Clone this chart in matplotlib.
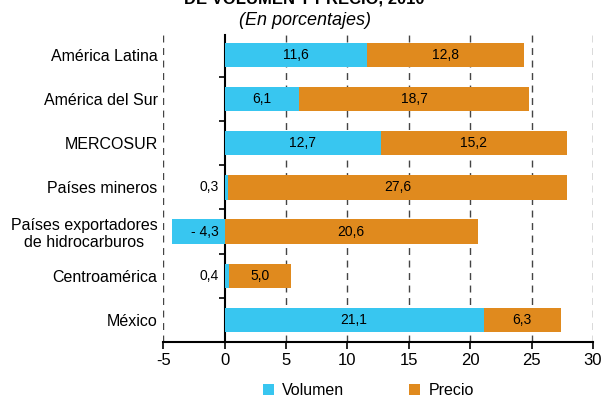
import numpy as np
import matplotlib
matplotlib.use('Agg')
import matplotlib.pyplot as plt

plt.rcParams['font.family'] = ['Liberation Sans', 'DejaVu Sans']

regiones = ['América Latina', 'América del Sur', 'MERCOSUR', 'Países mineros',
            'Países exportadores\nde hidrocarburos', 'Centroamérica', 'México']
volumen = [11.6, 6.1, 12.7, 0.3, -4.3, 0.4, 21.1]
precio = [12.8, 18.7, 15.2, 27.6, 20.6, 5.0, 6.3]
x_ticks = [-5, 0, 5, 10, 15, 20, 25, 30]

c_vol = '#38C6F0'
c_pre = '#E08A1E'


def fmt(v):
    s = f'{abs(v):.1f}'.replace('.', ',')
    return '- ' + s if v < 0 else s


fig = plt.figure(figsize=(6.02, 4.01), dpi=100)
ax = fig.add_axes([0.271, 0.147, 0.714, 0.766])

y = np.arange(len(regiones))
vol = np.array(volumen)
pre = np.array(precio)
# precio se apila sobre el volumen solo cuando este es positivo
base = np.where(vol > 0, vol, 0)

ax.barh(y, vol, height=0.55, color=c_vol, label='Volumen', zorder=3)
ax.barh(y, pre, left=base, height=0.55, color=c_pre, label='Precio', zorder=3)

for i in range(len(regiones)):
    v, p = vol[i], pre[i]
    if abs(v) < 5:
        ax.text(-0.5, i, fmt(v), ha='right', va='center', fontsize=10, zorder=4)
    else:
        ax.text(v / 2, i, fmt(v), ha='center', va='center', fontsize=10, zorder=4)
    ax.text(base[i] + p / 2, i, fmt(p), ha='center', va='center', fontsize=10, zorder=4)

ax.set_xlim(-5, 30)
ax.set_ylim(len(regiones) - 0.5, -0.45)
ax.set_xticks(x_ticks)
ax.set_xticklabels([str(t) for t in x_ticks], fontsize=12)
ax.tick_params(axis='x', direction='out', length=5, width=1.2, pad=3)

ax.set_yticks(y)
ax.set_yticklabels(regiones, fontsize=11.5, multialignment='center')
ax.tick_params(axis='y', length=0, pad=4)

# líneas de referencia discontinuas
for t in x_ticks:
    if t != 0:
        ax.axvline(t, color='#444444', lw=1, ls=(0, (5, 4)), zorder=1)

for s in ['top', 'right', 'left']:
    ax.spines[s].set_visible(False)
ax.spines['bottom'].set_linewidth(1.5)

# eje vertical en cero con marcas entre categorías
eje0 = ax.secondary_yaxis(5 / 35)
eje0.set_yticks(np.arange(len(regiones) + 1) - 0.5)
eje0.set_yticklabels([])
eje0.tick_params(direction='out', length=4, width=1.2)
eje0.spines['left'].set_linewidth(1.5)

ax.legend(loc='center', bbox_to_anchor=(0.477, -0.158), ncol=2, frameon=False,
          fontsize=11.5, handlelength=0.7, handleheight=0.7, columnspacing=4.1,
          handletextpad=0.5, borderpad=0.2)

fig.text(0.505, 0.9925, 'DE VOLUMEN Y PRECIO, 2010', ha='center', va='baseline',
         fontsize=12, fontweight='bold')
fig.text(0.507, 0.95, '(En porcentajes)', ha='center', va='center',
         fontsize=13, style='italic')

fig.savefig('out.png', dpi=100)
